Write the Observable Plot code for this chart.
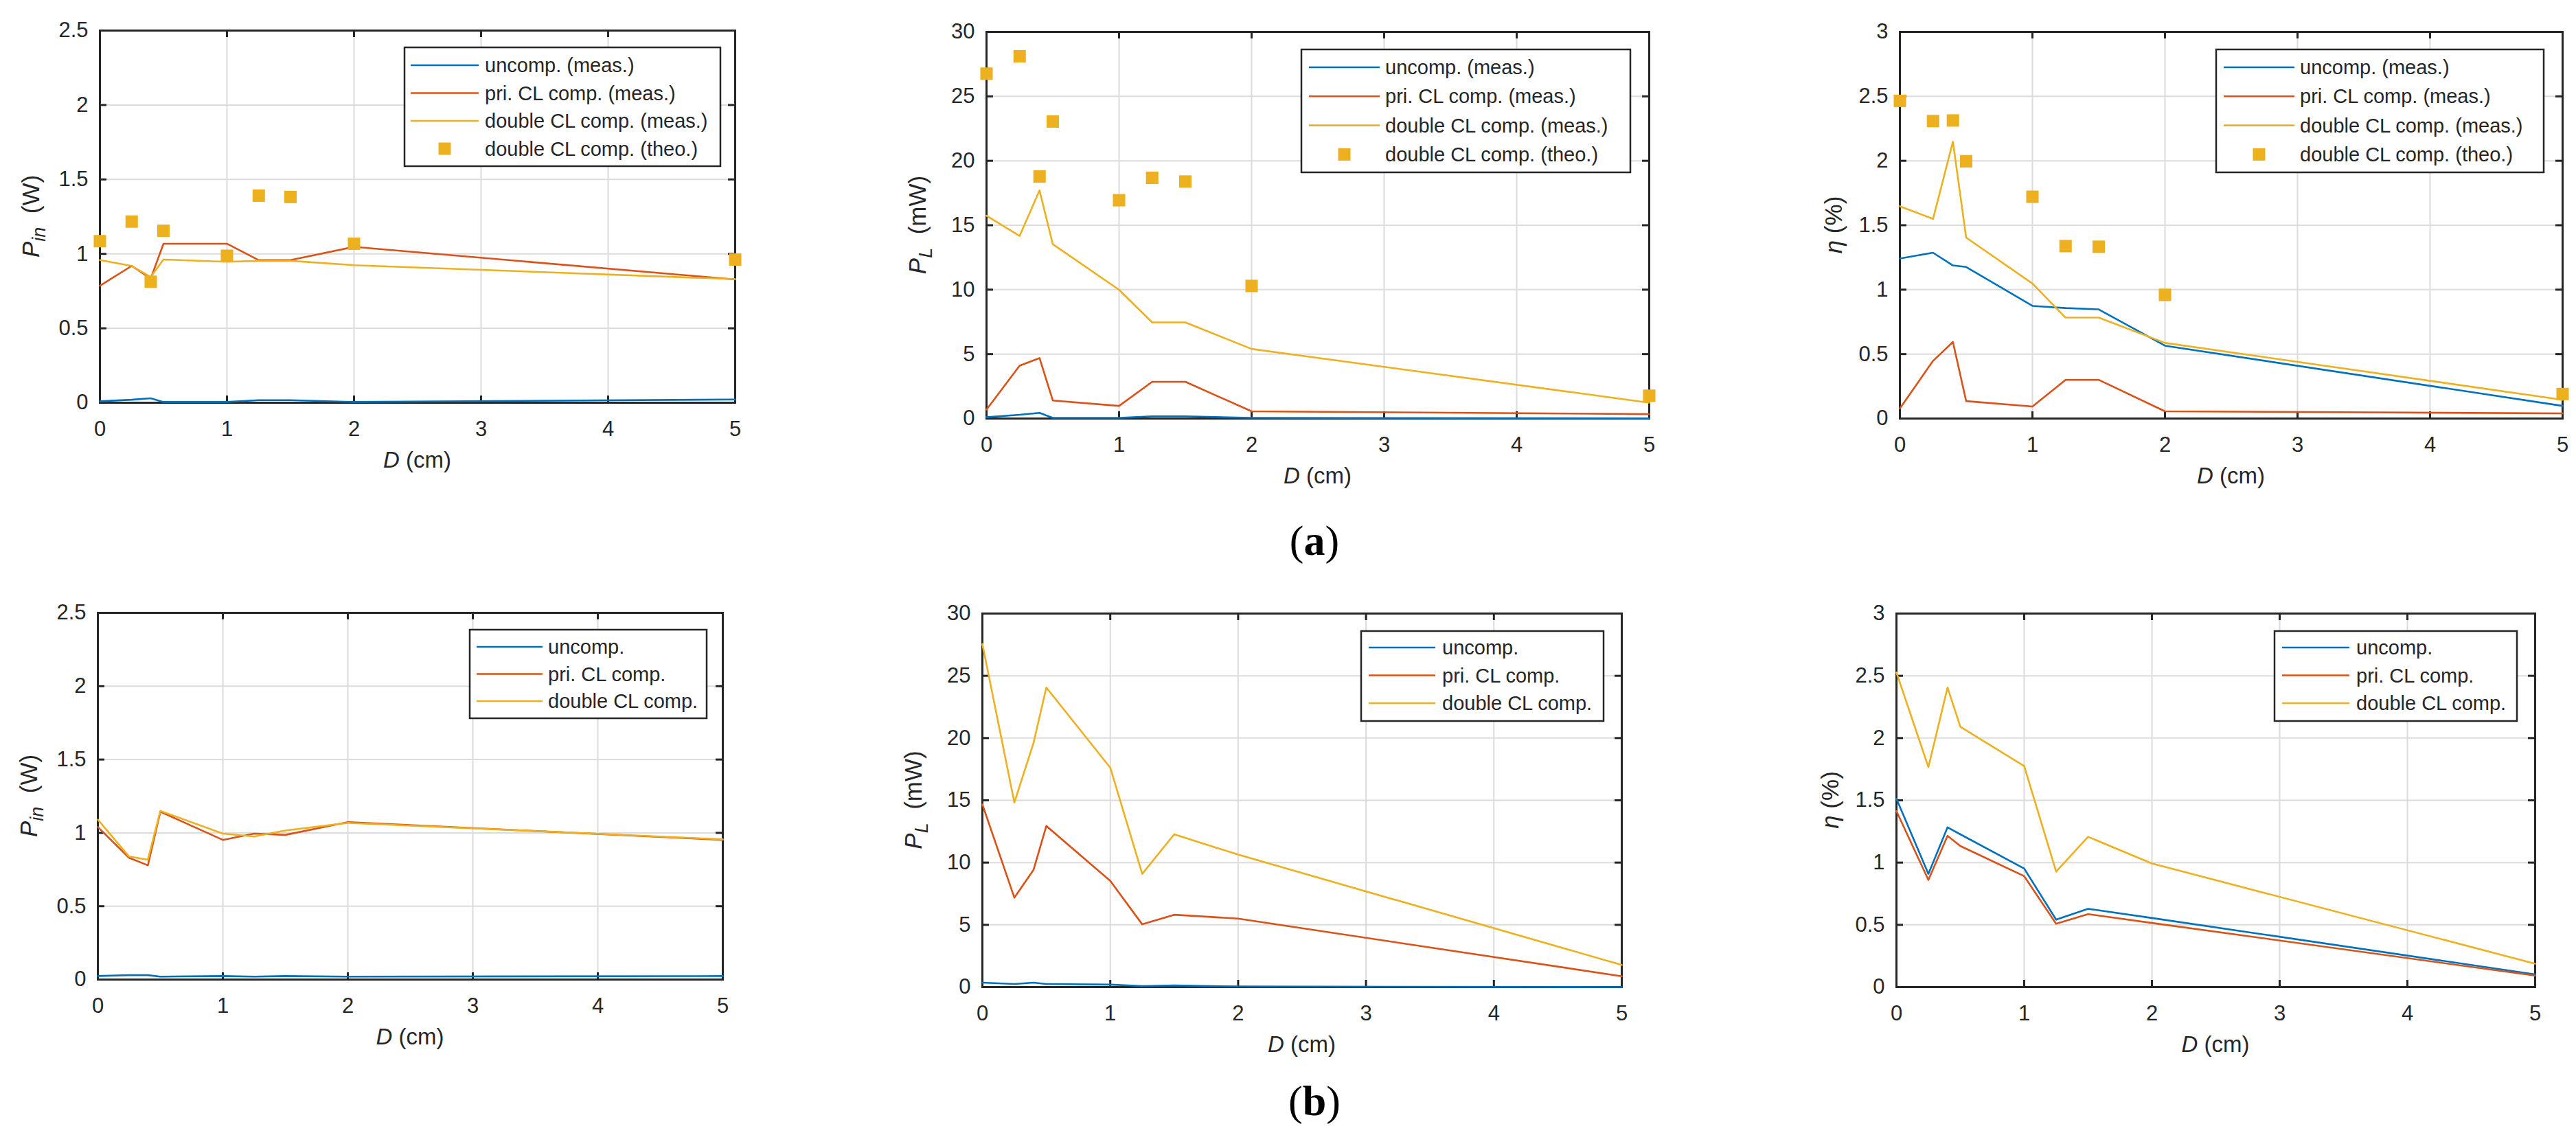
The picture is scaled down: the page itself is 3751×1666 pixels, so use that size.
<!DOCTYPE html>
<html>
<head>
<meta charset="utf-8">
<script src="https://cdn.jsdelivr.net/npm/d3@7"></script>
<script src="https://cdn.jsdelivr.net/npm/@observablehq/plot@0.6"></script>
<style>
  html, body { margin: 0; padding: 0; background: #fff; }
  #root { position: relative; width: 3751px; height: 1666px; overflow: hidden; background: #fff; }
  #root svg { position: absolute; overflow: visible; }
</style>
</head>
<body>
<div id="root"></div>
<script>
// ---------- data ----------
const D = [0, 0.25, 0.4, 0.5, 1, 1.25, 1.5, 2, 5];
const namesA = ["uncomp. (meas.)", "pri. CL comp. (meas.)", "double CL comp. (meas.)", "double CL comp. (theo.)"];
const namesB = ["uncomp.", "pri. CL comp.", "double CL comp."];
const xTicks = [0, 1, 2, 3, 4, 5];
const yTicksPin = [0, 0.5, 1, 1.5, 2, 2.5];
const yTicksPL = [0, 5, 10, 15, 20, 25, 30];
const yTicksEta = [0, 0.5, 1, 1.5, 2, 2.5, 3];

// (a)
const aPinUncomp = [0.01, 0.02, 0.03, 0.005, 0.005, 0.017, 0.017, 0.005, 0.022];
const aPinPri    = [0.786, 0.919, 0.834, 1.068, 1.068, 0.958, 0.958, 1.047, 0.828];
const aPinDouble = [0.958, 0.919, 0.845, 0.962, 0.947, 0.953, 0.953, 0.924, 0.83];
const aPinTheo   = [1.085, 1.217, 0.813, 1.155, 0.987, 1.391, 1.382, 1.068, 0.962];
const aPLUncomp  = [0.1, 0.29, 0.44, 0.05, 0.05, 0.17, 0.17, 0.05, 0.01];
const aPLPri     = [0.69, 4.1, 4.69, 1.4, 0.98, 2.85, 2.85, 0.56, 0.34];
const aPLDouble  = [15.74, 14.17, 17.7, 13.53, 9.99, 7.46, 7.46, 5.4, 1.23];
const aPLTheo    = [26.76, 28.11, 18.78, 23.05, 16.94, 18.68, 18.39, 10.29, 1.77];
const aEtaUncomp = [1.242, 1.287, 1.188, 1.176, 0.874, 0.857, 0.847, 0.565, 0.098];
const aEtaPri    = [0.079, 0.447, 0.594, 0.135, 0.093, 0.3, 0.3, 0.056, 0.04];
const aEtaDouble = [1.647, 1.549, 2.148, 1.404, 1.048, 0.783, 0.783, 0.587, 0.145];
const aEtaTheo   = [2.465, 2.308, 2.313, 1.996, 1.721, 1.338, 1.333, 0.96, 0.19];
// (b)
const bPinUncomp = [0.024, 0.03, 0.03, 0.02, 0.024, 0.02, 0.024, 0.02, 0.024];
const bPinPri    = [1.04, 0.83, 0.779, 1.144, 0.952, 0.995, 0.986, 1.073, 0.952];
const bPinDouble = [1.09, 0.839, 0.817, 1.15, 0.995, 0.975, 1.016, 1.068, 0.956];
const bPLUncomp  = [0.36, 0.25, 0.36, 0.25, 0.2, 0.08, 0.13, 0.05, 0.0];
const bPLPri     = [14.67, 7.18, 9.42, 12.94, 8.53, 5.04, 5.81, 5.5, 0.87];
const bPLDouble  = [27.55, 14.82, 19.61, 24.06, 17.62, 9.09, 12.27, 10.64, 1.78];
const bEtaUncomp = [1.513, 0.909, 1.283, 1.227, 0.952, 0.542, 0.629, 0.555, 0.102];
const bEtaPri    = [1.413, 0.861, 1.215, 1.133, 0.891, 0.509, 0.586, 0.515, 0.092];
const bEtaDouble = [2.526, 1.767, 2.406, 2.091, 1.775, 0.927, 1.207, 0.993, 0.188];

const colors = ["#0072BD", "#D95319", "#EDB120"];
const ink = "#262626";
const FONT = "'Liberation Sans', Arial, Helvetica, sans-serif";

const labelPin = [{t: "P", i: true}, {t: "in", i: true, sub: true}, {t: "\u00A0\u00A0(W)"}];
const labelPL  = [{t: "P", i: true}, {t: "L", i: true, sub: true}, {t: "\u00A0\u00A0(mW)"}];
const labelEta = [{t: "\u03B7", i: true}, {t: "\u00A0(%)"}];

// ---------- layout ----------
const panels = [
  {L: 145, T: 44, W: 925, H: 542, ymax: 2.5, yTicks: yTicksPin, ylab: labelPin, ylx: 88,
   series: [aPinUncomp, aPinPri, aPinDouble], theo: aPinTheo, names: namesA,
   leg: {x: 444, y: 25, w: 460, h: 173, r0: 26, dr: 40.5, l0: 9, l1: 108, tx: 117}},
  {L: 1436, T: 46, W: 965, H: 563, ymax: 30, yTicks: yTicksPL, ylab: labelPL, ylx: 88,
   series: [aPLUncomp, aPLPri, aPLDouble], theo: aPLTheo, names: namesA,
   leg: {x: 459, y: 26, w: 479, h: 179, r0: 26, dr: 42.3, l0: 11, l1: 114, tx: 122}},
  {L: 2766, T: 46, W: 965, H: 563, ymax: 3, yTicks: yTicksEta, ylab: labelEta, ylx: 84,
   series: [aEtaUncomp, aEtaPri, aEtaDouble], theo: aEtaTheo, names: namesA,
   leg: {x: 461, y: 26, w: 477, h: 179, r0: 26, dr: 42.3, l0: 11, l1: 114, tx: 122}},
  {L: 142, T: 892, W: 910, H: 534, ymax: 2.5, yTicks: yTicksPin, ylab: labelPin, ylx: 88,
   series: [bPinUncomp, bPinPri, bPinDouble], theo: null, names: namesB,
   leg: {x: 542, y: 25, w: 345, h: 129, r0: 25, dr: 39.5, l0: 10, l1: 106, tx: 114}},
  {L: 1430, T: 893, W: 931, H: 544, ymax: 30, yTicks: yTicksPL, ylab: labelPL, ylx: 88,
   series: [bPLUncomp, bPLPri, bPLDouble], theo: null, names: namesB,
   leg: {x: 552, y: 26, w: 353, h: 131, r0: 24, dr: 40.5, l0: 11, l1: 108, tx: 118}},
  {L: 2761, T: 893, W: 930, H: 544, ymax: 3, yTicks: yTicksEta, ylab: labelEta, ylx: 84,
   series: [bEtaUncomp, bEtaPri, bEtaDouble], theo: null, names: namesB,
   leg: {x: 551, y: 26, w: 353, h: 131, r0: 24, dr: 40.5, l0: 11, l1: 109, tx: 119}}
];

const ml = 170, mr = 40, mt = 40, mb = 140;
const root = document.getElementById("root");

for (const p of panels) {
  const {W, H} = p;
  const marks = [
    Plot.gridX(xTicks, {stroke: "#dcdcdc", strokeOpacity: 1, strokeWidth: 2}),
    Plot.gridY(p.yTicks, {stroke: "#dcdcdc", strokeOpacity: 1, strokeWidth: 2}),
    Plot.tickX(xTicks, {stroke: ink, strokeWidth: 3, insetTop: H - 10}),
    Plot.tickX(xTicks, {stroke: ink, strokeWidth: 3, insetBottom: H - 10}),
    Plot.tickY(p.yTicks, {stroke: ink, strokeWidth: 3, insetRight: W - 10}),
    Plot.tickY(p.yTicks, {stroke: ink, strokeWidth: 3, insetLeft: W - 10}),
    Plot.frame({stroke: ink, strokeWidth: 3}),
    Plot.axisX({ticks: xTicks, tickSize: 0, tickPadding: 26, tickFormat: d3.format("~g"), fontSize: 31, label: null}),
    Plot.axisY({ticks: p.yTicks, tickSize: 0, tickPadding: 17, tickFormat: d3.format("~g"), fontSize: 31, label: null})
  ];
  p.series.forEach((s, i) => {
    marks.push(Plot.line(D.map((x, j) => ({x, y: s[j]})), {x: "x", y: "y", stroke: colors[i], strokeWidth: 2.6}));
  });
  if (p.theo) {
    marks.push(Plot.dot(D.map((x, j) => ({x, y: p.theo[j]})), {x: "x", y: "y", symbol: "square", r: 10.2, fill: colors[2], stroke: "none"}));
  }
  const svg = Plot.plot({
    width: W + ml + mr, height: H + mt + mb,
    marginLeft: ml, marginRight: mr, marginTop: mt, marginBottom: mb,
    x: {domain: [0, 5]},
    y: {domain: [0, p.ymax]},
    style: {fontFamily: FONT, fontSize: "31px", color: ink, background: "transparent", overflow: "visible"},
    marks
  });
  svg.style.left = (p.L - ml) + "px";
  svg.style.top = (p.T - mt) + "px";
  root.appendChild(svg);

  const g = d3.select(svg).append("g").attr("font-family", FONT).attr("fill", ink);
  // x label
  const xl = g.append("text").attr("x", ml + W / 2).attr("y", mt + H + 95)
    .attr("text-anchor", "middle").attr("font-size", 33);
  xl.append("tspan").attr("font-style", "italic").text("D");
  xl.append("tspan").text("\u00A0(cm)");
  // y label
  const yl = g.append("text")
    .attr("transform", `translate(${ml - p.ylx},${mt + H / 2}) rotate(-90)`)
    .attr("text-anchor", "middle").attr("font-size", 35);
  p.ylab.forEach((part, k) => {
    const ts = yl.append("tspan").text(part.t);
    if (part.i) ts.attr("font-style", "italic");
    if (part.sub) ts.attr("font-size", 27).attr("dy", 9);
    else if (k > 0 && p.ylab[k - 1].sub) ts.attr("dy", -9);
  });
  // legend
  const lg = p.leg;
  const lgG = g.append("g").attr("transform", `translate(${ml + lg.x},${mt + lg.y})`);
  lgG.append("rect").attr("width", lg.w).attr("height", lg.h)
    .attr("fill", "#fff").attr("stroke", ink).attr("stroke-width", 2.5);
  p.names.forEach((name, i) => {
    const cy = lg.r0 + i * lg.dr;
    if (i < 3) {
      lgG.append("line").attr("x1", lg.l0).attr("x2", lg.l1).attr("y1", cy).attr("y2", cy)
        .attr("stroke", colors[i]).attr("stroke-width", 2.6);
    } else {
      const cx = (lg.l0 + lg.l1) / 2;
      lgG.append("rect").attr("x", cx - 9).attr("y", cy - 9).attr("width", 18).attr("height", 18)
        .attr("fill", colors[2]);
    }
    lgG.append("text").attr("x", lg.tx).attr("y", cy).attr("dy", "0.35em")
      .attr("text-anchor", "start").attr("font-size", 29).text(name);
  });
}

// panel captions (a), (b)
const ov = d3.select(root).append("svg").attr("width", 3751).attr("height", 1666)
  .style("left", "0px").style("top", "0px").style("pointer-events", "none");
for (const [lab, y] of [["a", 808], ["b", 1624]]) {
  const t = ov.append("text").attr("x", 1914).attr("y", y).attr("text-anchor", "middle")
    .attr("font-family", "'Liberation Serif', 'Times New Roman', serif").attr("font-size", 62).attr("fill", "#000");
  t.append("tspan").text("(");
  t.append("tspan").attr("font-weight", "bold").text(lab);
  t.append("tspan").text(")");
}
</script>
</body>
</html>
